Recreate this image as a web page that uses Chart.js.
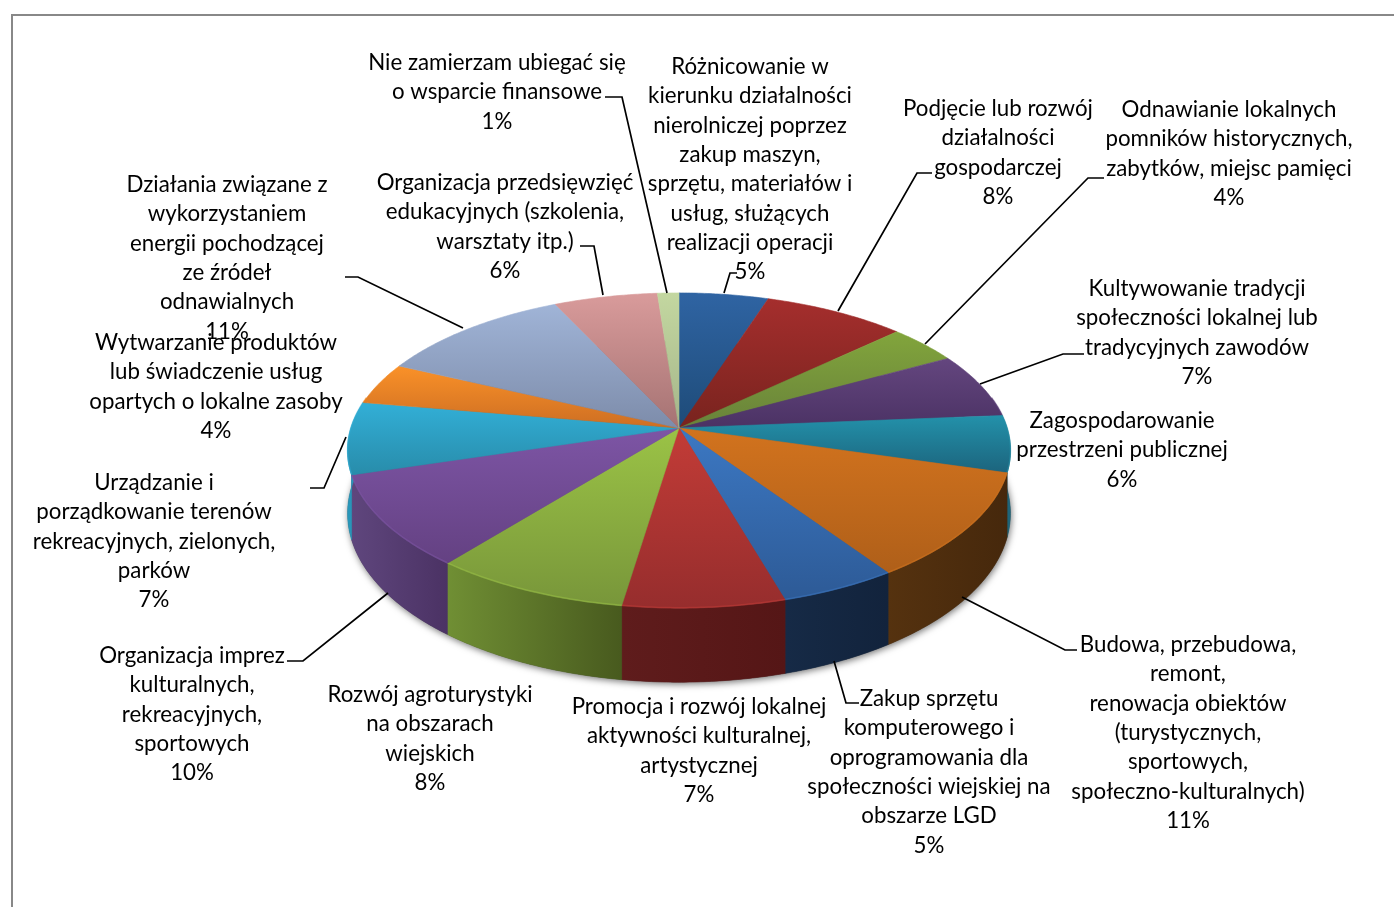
<!DOCTYPE html>
<html lang="pl"><head><meta charset="utf-8">
<style>html,body{margin:0;padding:0;background:#fff}canvas{display:block}</style>
<script src="https://cdn.jsdelivr.net/npm/chart.js@4"></script></head>
<body><canvas id="c" width="1394" height="907"></canvas>
<script>
const categories = [
 "Różnicowanie w|kierunku działalności|nierolniczej poprzez|zakup maszyn,|sprzętu, materiałów i|usług, służących|realizacji operacji",
 "Podjęcie lub rozwój|działalności|gospodarczej",
 "Odnawianie lokalnych|pomników historycznych,|zabytków, miejsc pamięci",
 "Kultywowanie tradycji|społeczności lokalnej lub|tradycyjnych zawodów",
 "Zagospodarowanie|przestrzeni publicznej",
 "Budowa, przebudowa,|remont,|renowacja obiektów|(turystycznych,|sportowych,|społeczno-kulturalnych)",
 "Zakup sprzętu|komputerowego i|oprogramowania dla|społeczności wiejskiej na|obszarze LGD",
 "Promocja i rozwój lokalnej|aktywności kulturalnej,|artystycznej",
 "Rozwój agroturystyki|na obszarach|wiejskich",
 "Organizacja imprez|kulturalnych,|rekreacyjnych,|sportowych",
 "Urządzanie i|porządkowanie terenów|rekreacyjnych, zielonych,|parków",
 "Wytwarzanie produktów|lub świadczenie usług|opartych o lokalne zasoby",
 "Działania związane z|wykorzystaniem|energii pochodzącej|ze źródeł|odnawialnych",
 "Organizacja przedsięwzięć|edukacyjnych (szkolenia,|warsztaty itp.)",
 "Nie zamierzam ubiegać się|o wsparcie finansowe"
];
const values = [5, 8, 4, 6.7, 5.8, 11, 5, 6.9, 8.4, 9.5, 7.4, 4.3, 11, 5.8, 1.2];
const faceLight = ["#2f64a3","#a52e2d","#82a53c","#64467f","#2391aa","#d2731e","#3c78c3","#c33c37","#9bc346","#7d55a5","#32afd7","#fa9128","#a0b4d7","#d99b9b","#c3d7a0"];
const faceDark  = ["#1e4b78","#78231e","#68823a","#4b3264","#1c647d","#af5f19","#2d5a96","#962d2d","#78963a","#644182","#288caa","#cd6e23","#7d8caa","#a57373","#a5b58a"];
const wallLight = ["#1e3f66","#5a1a1a","#56702a","#46305e","#1e6478","#55320f","#162a46","#5f1c1c","#708f34","#5f467d","#2896b9","#b0601e","#6a7896","#8a6060","#8a9a70"];
const wallDark  = ["#1e3f66","#5a1a1a","#56702a","#46305e","#1e6478","#46280c","#12233c","#551616","#485a1e","#4b3264","#2896b9","#b0601e","#6a7896","#8a6060","#8a9a70"];

// text anchors and leader lines, in page pixels, one per category
const labelCentre = [[750,66],[998,108],[1229,109],[1197,288],[1122,420],[1188,644],[929,698],[699,706],[430,694],[192,655],[154,482],[216,342],[227,184],[505,182],[497,62]];
const leaders = [
 [[724,293],[730,273],[737,273]],
 [[838,311],[917,173],[932,173]],
 [[925,344],[1088,178],[1104,178]],
 [[980,384],[1063,354],[1084,354]],
 null,
 [[962,597],[1065,650],[1077,650]],
 [[834,661],[846,703],[859,703]],
 null,null,
 [[388,593],[303,661],[287,661]],
 [[346,437],[324,488],[310,488]],
 null,
 [[463,328],[358,277],[345,277]],
 [[603,295],[594,246],[580,246]],
 [[667,293],[622,97],[605,97]]
];

const P = {cx:679, cy:428, R:328, S:154.4, k:0.143, wall:61, wallFront:13};
function proj(a, bottom){
  const u = Math.cos(a), v = Math.sin(a), d = 1 - P.k*v;
  const x = P.cx + P.R*u/d, y = P.cy + P.S*v/d;
  return bottom ? [x, y + P.wall + P.wallFront*v] : [x, y];
}
function rimPts(a0, a1, bottom){
  const n = Math.max(2, Math.ceil((a1-a0)/0.01)), pts = [];
  for(let i=0;i<=n;i++) pts.push(proj(a0+(a1-a0)*i/n, bottom));
  return pts;
}
function drawWall(ctx,i,a0,a1){
  const t=rimPts(a0,a1,false), b=rimPts(a0,a1,true);
  const g=ctx.createLinearGradient(t[t.length-1][0],0,t[0][0],0);
  g.addColorStop(0,wallLight[i]); g.addColorStop(1,wallDark[i]);
  ctx.fillStyle=g; ctx.strokeStyle=g; ctx.lineWidth=.6;
  ctx.beginPath();
  t.forEach((p,j)=> j?ctx.lineTo(p[0],p[1]):ctx.moveTo(p[0],p[1]));
  b.reverse().forEach(p=>ctx.lineTo(p[0],p[1]));
  ctx.closePath(); ctx.fill(); ctx.stroke();
}
const solidPie = {
  id:'solidPie',
  beforeDatasetsDraw(chart){
    const ctx = chart.ctx, arcs = chart.getDatasetMeta(0).data;
    const FRONT0 = -0.2, FRONT1 = Math.PI+0.2;
    ctx.save();
    ctx.shadowColor='rgba(0,0,0,0.55)'; ctx.shadowBlur=7; ctx.shadowOffsetY=2; ctx.shadowOffsetX=1;
    ctx.fillStyle='#444';
    ctx.beginPath();
    rimPts(0,2*Math.PI,true).forEach((p,i)=> i?ctx.lineTo(p[0],p[1]):ctx.moveTo(p[0],p[1]));
    ctx.closePath(); ctx.fill();
    ctx.restore();
    arcs.forEach((arc,i)=>{
      const a0 = Math.max(arc.startAngle, FRONT0), a1 = Math.min(arc.endAngle, FRONT1);
      if(a1>a0) drawWall(ctx,i,a0,a1);
    });
    arcs.forEach((arc,i)=>{
      const pts = rimPts(arc.startAngle, arc.endAngle, false);
      let yMin=P.cy,yMax=P.cy; pts.forEach(p=>{yMin=Math.min(yMin,p[1]);yMax=Math.max(yMax,p[1]);});
      const g = ctx.createLinearGradient(0,yMin,0,yMax);
      g.addColorStop(0,faceLight[i]); g.addColorStop(1,faceDark[i]);
      ctx.fillStyle=g; ctx.strokeStyle=g; ctx.lineWidth=0.6;
      ctx.beginPath(); ctx.moveTo(P.cx,P.cy);
      pts.forEach(p=>ctx.lineTo(p[0],p[1]));
      ctx.closePath(); ctx.fill(); ctx.stroke();
      const a0=Math.max(arc.startAngle,FRONT0), a1=Math.min(arc.endAngle,FRONT1);
      if(a1>a0){
        ctx.save(); ctx.strokeStyle=faceLight[i]; ctx.lineWidth=1.5; ctx.globalAlpha=.5;
        ctx.beginPath(); rimPts(a0,a1,false).forEach((p,j)=> j?ctx.lineTo(p[0],p[1]-.5):ctx.moveTo(p[0],p[1]-.5)); ctx.stroke(); ctx.restore();
      }
    });
    ctx.save();
    ctx.strokeStyle='#000'; ctx.lineWidth=1.7;
    leaders.forEach(l=>{ if(!l) return; ctx.beginPath(); l.forEach((p,j)=> j?ctx.lineTo(p[0],p[1]):ctx.moveTo(p[0],p[1])); ctx.stroke(); });
    ctx.fillStyle='#000'; ctx.font='22.3px Lato'; ctx.textAlign='center'; ctx.textBaseline='middle';
    categories.forEach((c,i)=>{
      const lines=c.split('|').concat([Math.round(values[i])+'%']);
      lines.forEach((t,j)=> ctx.fillText(t, labelCentre[i][0], labelCentre[i][1]+0.8+j*29.35));
    });
    ctx.restore();
    return false;
  }
};
new Chart(document.getElementById('c'),{
  type:'pie',
  data:{labels:categories,datasets:[{data:values,backgroundColor:faceLight,borderWidth:0}]},
  options:{responsive:false,animation:false,events:[],
    plugins:{legend:{display:false},tooltip:{enabled:false}}},
  plugins:[{id:'frame',beforeDraw(ch){const c=ch.ctx;c.save();c.fillStyle='#fff';c.fillRect(0,0,1394,907);c.fillStyle='#888';c.fillRect(11,14,1383,2);c.fillRect(11,14,2,893);c.restore();}},solidPie]
});
</script></body></html>
